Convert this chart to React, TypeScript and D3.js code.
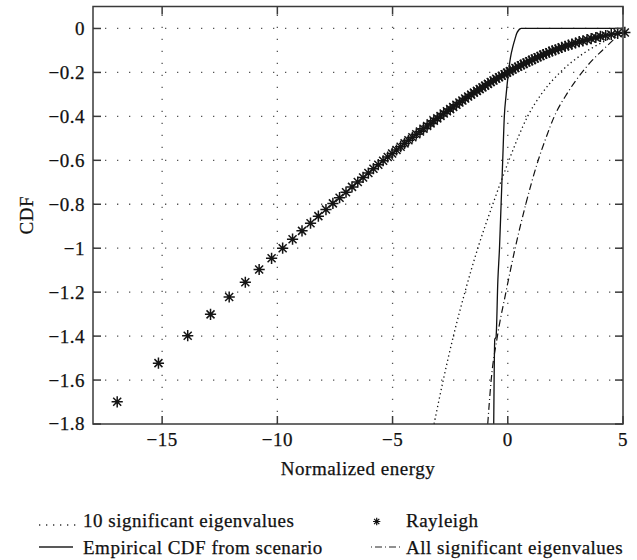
import * as d3 from 'd3'

const W = 637
const H = 560
const M = { left: 93, right: 623, top: 6.5, bottom: 424 }

const xTicks = [-15, -10, -5, 0, 5]
const yTicks = [0, -0.2, -0.4, -0.6, -0.8, -1, -1.2, -1.4, -1.6, -1.8]

// Rayleigh markers
const rayleighX = [
  -16.95, -15.16, -13.89, -12.9, -12.09, -11.39, -10.79, -10.25, -9.77, -9.34,
  -8.93, -8.56, -8.22, -7.89, -7.59, -7.3, -7.02, -6.76, -6.51, -6.28,
  -6.05, -5.83, -5.62, -5.41, -5.21, -5.02, -4.83, -4.65, -4.48, -4.31,
  -4.14, -3.97, -3.81, -3.66, -3.5, -3.35, -3.21, -3.06, -2.92, -2.78,
  -2.64, -2.5, -2.37, -2.23, -2.1, -1.97, -1.85, -1.72, -1.59, -1.47,
  -1.34, -1.22, -1.1, -0.98, -0.86, -0.74, -0.62, -0.5, -0.38, -0.26,
  -0.14, -0.03, 0.09, 0.21, 0.33, 0.45, 0.57, 0.69, 0.81, 0.93,
  1.05, 1.17, 1.29, 1.42, 1.54, 1.67, 1.8, 1.93, 2.07, 2.2,
  2.34, 2.49, 2.63, 2.78, 2.94, 3.1, 3.26, 3.44, 3.62, 3.82,
  4.02, 4.25, 4.49, 4.77, 5.08,
]
const rayleighY = [
  -1.699, -1.523, -1.398, -1.301, -1.222, -1.155, -1.097, -1.046, -1.0, -0.959,
  -0.921, -0.886, -0.854, -0.824, -0.796, -0.77, -0.745, -0.721, -0.699, -0.678,
  -0.658, -0.638, -0.62, -0.602, -0.585, -0.569, -0.553, -0.538, -0.523, -0.509,
  -0.495, -0.481, -0.469, -0.456, -0.444, -0.432, -0.42, -0.409, -0.398, -0.387,
  -0.377, -0.367, -0.357, -0.347, -0.337, -0.328, -0.319, -0.31, -0.301, -0.292,
  -0.284, -0.276, -0.268, -0.26, -0.252, -0.244, -0.237, -0.229, -0.222, -0.215,
  -0.208, -0.201, -0.194, -0.187, -0.18, -0.174, -0.167, -0.161, -0.155, -0.149,
  -0.143, -0.137, -0.131, -0.125, -0.119, -0.114, -0.108, -0.102, -0.097, -0.092,
  -0.086, -0.081, -0.076, -0.071, -0.066, -0.06, -0.056, -0.051, -0.046, -0.041,
  -0.036, -0.032, -0.027, -0.022, -0.018,
]

const empiricalX = [-0.61, -0.565, -0.51, -0.43, -0.36, -0.29, -0.22, -0.15, -0.07, 0.03, 0.12, 0.22, 0.32, 0.39, 0.47, 0.53, 0.58, 5]
const empiricalY = [-1.8, -1.415, -1.405, -1.145, -1.0, -0.8, -0.6, -0.4, -0.3, -0.2, -0.13, -0.083, -0.045, -0.022, -0.008, -0.002, 0, 0]

const tenEigX = [-3.2, -2.8, -2.36, -1.86, -1.3, -0.65, 0.05, 0.43, 0.86, 1.45, 2.27, 3.29, 4.3, 5.0]
const tenEigY = [-1.8, -1.6, -1.4, -1.2, -1.0, -0.8, -0.6, -0.5, -0.4, -0.3, -0.2, -0.113, -0.052, -0.015]

const allEigX = [-0.87, -0.72, -0.45, -0.08, 0.32, 0.78, 1.32, 1.65, 2.02, 2.55, 3.22, 3.62, 4.1, 4.5, 4.8, 5.0]
const allEigY = [-1.8, -1.6, -1.4, -1.2, -1.0, -0.8, -0.6, -0.5, -0.4, -0.3, -0.2, -0.15, -0.1, -0.06, -0.03, -0.015]

const FONT = '"Liberation Serif", "Times New Roman", serif'
const STAR = 'M-5.6,0H5.6M0,-5.6V5.6M-4,-4L4,4M-4,4L4,-4'

const fmt = (v: number) => (v < 0 ? '\u2212' + Math.abs(v) : String(v))

export default function App() {
  const x = d3.scaleLinear().domain([-18, 5]).range([M.left, M.right])
  const y = d3.scaleLinear().domain([-1.8, 0.1]).range([M.bottom, M.top])

  const line = (xs: number[], ys: number[], curve: d3.CurveFactory) =>
    d3
      .line<number>()
      .x((_, i) => x(xs[i]))
      .y((_, i) => y(ys[i]))
      .curve(curve)(xs) as string

  const tickLen = 8
  const textStyle = {
    fontFamily: FONT,
    fontSize: 19,
    letterSpacing: 0.5,
    fill: '#111',
    stroke: '#111',
    strokeWidth: 0.25,
  }

  return (
    <svg
      width={W}
      height={H}
      style={{ position: 'absolute', left: 0, top: 0, background: '#fff' }}
    >
      <rect width={W} height={H} fill="#fff" />

      {/* grid */}
      <g stroke="#555" strokeWidth={1.3} strokeDasharray="1.3 10.7">
        {xTicks.slice(0, -1).map((t) => (
          <line key={'gx' + t} x1={x(t)} x2={x(t)} y1={M.bottom} y2={M.top} />
        ))}
        {yTicks.slice(0, -1).map((t) => (
          <line key={'gy' + t} x1={M.left} x2={M.right} y1={y(t)} y2={y(t)} />
        ))}
      </g>

      {/* curves */}
      <path
        d={line(tenEigX, tenEigY, d3.curveMonotoneX)}
        fill="none"
        stroke="#111"
        strokeWidth={1.3}
        strokeDasharray="1.3 3"
      />
      <path
        d={line(allEigX, allEigY, d3.curveMonotoneX)}
        fill="none"
        stroke="#111"
        strokeWidth={1.2}
        strokeDasharray="7 3 1 3"
      />
      <path
        d={line(empiricalX, empiricalY, d3.curveMonotoneX)}
        fill="none"
        stroke="#111"
        strokeWidth={1.3}
      />

      {/* Rayleigh stars */}
      <g stroke="#141414" strokeWidth={1.5} fill="none">
        {rayleighX.map((v, i) => (
          <path key={i} d={STAR} transform={`translate(${x(v)},${y(rayleighY[i])})`} />
        ))}
      </g>

      {/* axes frame and ticks */}
      <g stroke="#3a3a3a" strokeWidth={1.5} fill="none">
        <rect x={M.left} y={M.top} width={M.right - M.left} height={M.bottom - M.top} />
        {xTicks.map((t) => (
          <g key={'tx' + t}>
            <line x1={x(t)} x2={x(t)} y1={M.bottom} y2={M.bottom - tickLen} />
            <line x1={x(t)} x2={x(t)} y1={M.top} y2={M.top + tickLen} />
          </g>
        ))}
        {yTicks.map((t) => (
          <g key={'ty' + t}>
            <line x1={M.left} x2={M.left + tickLen} y1={y(t)} y2={y(t)} />
            <line x1={M.right} x2={M.right - tickLen} y1={y(t)} y2={y(t)} />
          </g>
        ))}
      </g>

      {/* tick labels */}
      <g style={textStyle}>
        {xTicks.map((t) => (
          <text key={'lx' + t} x={x(t)} y={446} textAnchor="middle">
            {fmt(t)}
          </text>
        ))}
        {yTicks.map((t) => (
          <text key={'ly' + t} x={85} y={y(t)} dy="0.34em" textAnchor="end">
            {fmt(t)}
          </text>
        ))}
        <text x={(M.left + M.right) / 2} y={475} textAnchor="middle">
          Normalized energy
        </text>
        <text transform={`translate(33,${(M.top + M.bottom) / 2}) rotate(-90)`} textAnchor="middle">
          CDF
        </text>
      </g>

      {/* legend */}
      <g>
        <line x1={39} x2={76} y1={525} y2={525} stroke="#333" strokeWidth={1.3} strokeDasharray="1.3 5.7" />
        <text x={83} y={527} style={textStyle}>10 significant eigenvalues</text>
        <line x1={39} x2={73} y1={547} y2={547} stroke="#222" strokeWidth={1.3} />
        <text x={83} y={553.5} style={textStyle}>Empirical CDF from scenario</text>
        <path d={STAR} transform="translate(376.7,521.5) scale(0.65)" stroke="#111" strokeWidth={1.9} fill="none" />
        <text x={406} y={527} style={textStyle}>Rayleigh</text>
        <line x1={371} x2={401} y1={547} y2={547} stroke="#222" strokeWidth={1.2} strokeDasharray="1 3 7 3" />
        <text x={406} y={553.5} style={textStyle}>All significant eigenvalues</text>
      </g>
    </svg>
  )
}
